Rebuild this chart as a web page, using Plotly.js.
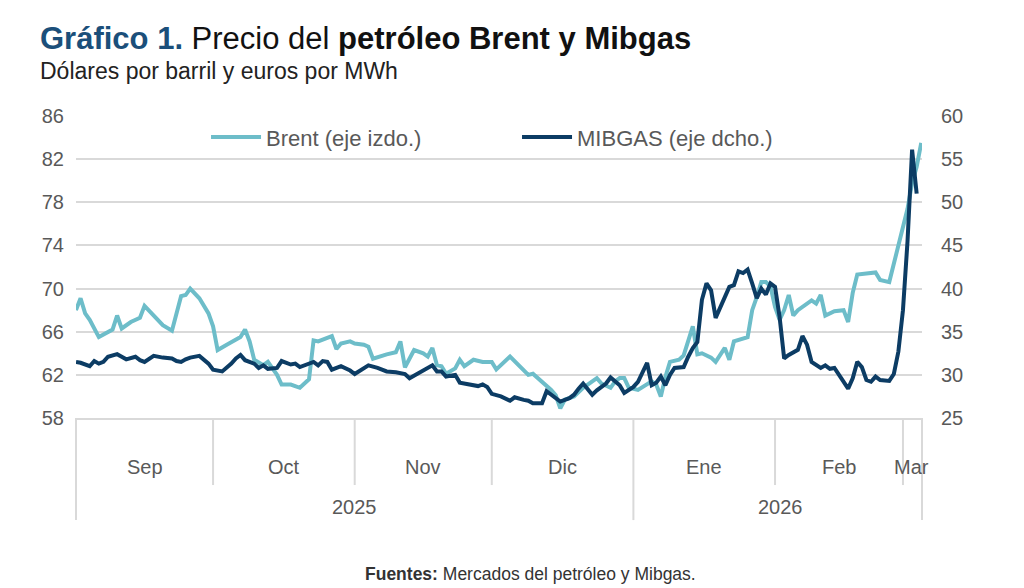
<!DOCTYPE html>
<html>
<head>
<meta charset="utf-8">
<script src="https://cdn.plot.ly/plotly-3.0.1.min.js"></script>
<style>html,body{margin:0;padding:0;background:#fff}#chart{width:1024px;height:588px}</style>
</head>
<body>
<div id="chart"></div>
<script>
const brentDates = ["2025-09-01","2025-09-02","2025-09-03","2025-09-04","2025-09-06","2025-09-07","2025-09-09","2025-09-10","2025-09-11","2025-09-13","2025-09-15","2025-09-16","2025-09-18","2025-09-20","2025-09-22","2025-09-24","2025-09-25","2025-09-26","2025-09-28","2025-09-30",
"2025-10-01","2025-10-02","2025-10-04","2025-10-06","2025-10-07","2025-10-08","2025-10-09","2025-10-10","2025-10-12","2025-10-13","2025-10-15","2025-10-16","2025-10-18","2025-10-20","2025-10-22","2025-10-23","2025-10-24","2025-10-27","2025-10-28","2025-10-29","2025-10-31",
"2025-11-01","2025-11-03","2025-11-04","2025-11-05","2025-11-08","2025-11-10","2025-11-11","2025-11-12","2025-11-14","2025-11-16","2025-11-17","2025-11-18","2025-11-19","2025-11-20","2025-11-21","2025-11-23","2025-11-24","2025-11-25","2025-11-27","2025-11-29",
"2025-12-01","2025-12-02","2025-12-05","2025-12-07","2025-12-09","2025-12-10","2025-12-12","2025-12-13","2025-12-14","2025-12-15","2025-12-16","2025-12-17","2025-12-19","2025-12-21","2025-12-23","2025-12-24","2025-12-25","2025-12-27","2025-12-28","2025-12-29","2025-12-30","2025-12-31",
"2026-01-02","2026-01-03","2026-01-05","2026-01-06","2026-01-07","2026-01-08","2026-01-09","2026-01-11","2026-01-12","2026-01-14","2026-01-15","2026-01-16","2026-01-18","2026-01-19","2026-01-21","2026-01-22","2026-01-23","2026-01-26","2026-01-27","2026-01-28","2026-01-29","2026-01-30","2026-01-31",
"2026-02-01","2026-02-02","2026-02-03","2026-02-04","2026-02-05","2026-02-06","2026-02-09","2026-02-10","2026-02-11","2026-02-12","2026-02-14","2026-02-16","2026-02-17","2026-02-18","2026-02-19","2026-02-23","2026-02-24","2026-02-26",
"2026-03-02","2026-03-03","2026-03-04","2026-03-05"];
const brentValues = [68.0,69.1,67.7,67.1,65.5,65.7,66.2,67.5,66.3,66.9,67.3,68.4,67.5,66.6,66.1,69.3,69.4,70.0,69.1,67.7,
66.5,64.3,64.8,65.2,65.5,66.2,65.1,63.4,62.9,63.2,62.0,61.1,61.1,60.8,61.6,65.2,65.1,65.6,64.4,64.9,65.1,
64.9,64.8,64.6,63.5,63.9,64.1,65.1,62.7,64.3,64.0,63.7,64.5,62.9,62.8,62.1,62.6,63.4,62.8,63.4,63.2,
63.2,62.5,63.7,62.9,62.0,62.1,61.4,61.0,60.6,60.1,58.9,59.7,60.0,60.8,61.4,61.7,61.2,60.8,61.4,61.7,61.7,60.8,
60.6,60.9,61.4,61.1,60.0,61.8,63.2,63.4,63.8,66.5,63.9,64.0,63.6,63.2,64.5,63.4,65.1,65.5,68.0,69.2,70.6,70.6,70.2,
68.3,67.1,68.0,69.4,67.5,68.0,68.9,68.6,69.4,67.5,67.9,68.0,66.9,69.6,71.3,71.5,70.8,70.6,
77.4,79.8,81.3,83.5];

const gasDates = ["2025-09-01","2025-09-02","2025-09-04","2025-09-05","2025-09-06","2025-09-07","2025-09-08","2025-09-10","2025-09-11","2025-09-12","2025-09-14","2025-09-15","2025-09-16","2025-09-18","2025-09-20","2025-09-22","2025-09-23","2025-09-24","2025-09-25","2025-09-26","2025-09-28","2025-09-30",
"2025-10-01","2025-10-03","2025-10-05","2025-10-06","2025-10-07","2025-10-08","2025-10-10","2025-10-11","2025-10-12","2025-10-13","2025-10-15","2025-10-16","2025-10-18","2025-10-19","2025-10-20","2025-10-21","2025-10-23","2025-10-24","2025-10-25","2025-10-26","2025-10-27","2025-10-29","2025-10-31",
"2025-11-01","2025-11-03","2025-11-04","2025-11-06","2025-11-08","2025-11-10","2025-11-12","2025-11-13","2025-11-15","2025-11-16","2025-11-17","2025-11-18","2025-11-19","2025-11-20","2025-11-21","2025-11-23","2025-11-24","2025-11-26","2025-11-28","2025-11-29","2025-11-30",
"2025-12-01","2025-12-03","2025-12-05","2025-12-06","2025-12-08","2025-12-09","2025-12-10","2025-12-12","2025-12-13","2025-12-16","2025-12-18","2025-12-19","2025-12-20","2025-12-21","2025-12-23","2025-12-24","2025-12-26","2025-12-27","2025-12-29","2025-12-30",
"2026-01-01","2026-01-02","2026-01-04","2026-01-05","2026-01-06","2026-01-07","2026-01-08","2026-01-09","2026-01-10","2026-01-12","2026-01-13","2026-01-14","2026-01-15","2026-01-16","2026-01-17","2026-01-18","2026-01-19","2026-01-20","2026-01-21","2026-01-22","2026-01-23","2026-01-24","2026-01-25","2026-01-26","2026-01-27","2026-01-28","2026-01-29","2026-01-30","2026-01-31",
"2026-02-01","2026-02-02","2026-02-03","2026-02-04","2026-02-06","2026-02-07","2026-02-08","2026-02-09","2026-02-11","2026-02-12","2026-02-13","2026-02-14","2026-02-16","2026-02-17","2026-02-18","2026-02-19","2026-02-20","2026-02-21","2026-02-22","2026-02-23","2026-02-24","2026-02-26","2026-02-27","2026-02-28",
"2026-03-01","2026-03-02","2026-03-03","2026-03-04"];
const gasValues = [31.5,31.4,31.0,31.6,31.3,31.5,32.1,32.4,32.1,31.8,32.1,31.7,31.5,32.2,32.0,31.9,31.6,31.5,31.8,32.0,32.2,31.3,
30.6,30.4,31.3,31.9,32.3,31.7,31.3,30.8,31.1,30.7,30.8,31.6,31.2,31.3,30.9,31.1,31.5,31.1,31.6,31.5,30.6,31.0,30.5,
30.1,30.8,31.1,30.8,30.4,30.3,30.1,29.6,30.2,30.5,30.8,31.1,30.4,30.4,29.8,30.0,29.1,28.9,28.7,28.9,28.6,
27.8,27.5,27.0,27.4,27.1,27.0,26.7,26.7,28.1,26.9,27.3,27.7,28.4,29.0,27.7,28.2,29.0,29.7,28.8,27.9,
28.6,29.2,31.4,28.8,29.1,29.8,28.8,30.0,30.8,30.9,32.1,33.1,33.8,38.7,40.6,39.8,36.6,37.9,39.1,40.2,40.4,42.0,41.8,42.2,40.6,38.9,40.0,39.3,40.6,
40.2,36.7,31.9,32.3,32.9,34.5,33.5,31.5,30.8,31.1,30.7,30.8,29.2,28.4,29.6,31.5,30.9,29.4,29.2,29.8,29.4,29.3,30.1,32.7,
37.5,45.5,56.1,51.0];

const monthStarts = ["2025-10-01","2025-11-01","2025-12-01","2026-02-01","2026-03-01"];
const yearStarts = ["2026-01-01"];
const monthLabels = ["Sep","Oct","Nov","Dic","Ene","Feb","Mar"];
const monthMids = ["2025-09-16","2025-10-16 12:00","2025-11-16","2025-12-16 12:00","2026-01-16 12:00","2026-02-15","2026-03-02 20:00"];
const yearLabels = ["2025","2026"];
const yearMids = ["2025-11-01","2026-02-02 06:00"];

const leftTicks = [58,62,66,70,74,78,82,86];
const rightTicks = [25,30,35,40,45,50,55,60];

const GRID = "#d9d9d9", TXT = "#595959";
const FONT = "Liberation Sans, Arial, sans-serif";

const traces = [
  {x: brentDates, y: brentValues, type: "scatter", mode: "lines", name: "Brent (eje izdo.)",
   line: {color: "#6dbdc9", width: 4}, yaxis: "y"},
  {x: gasDates, y: gasValues, type: "scatter", mode: "lines", name: "MIBGAS (eje dcho.)",
   line: {color: "#0c3c64", width: 4}, yaxis: "y2"}
];

const shapes = [];
monthStarts.forEach(d => shapes.push({type:"line", xref:"x", yref:"paper", x0:d, x1:d, y0:0, y1:-0.222, line:{color:GRID, width:2}}));
yearStarts.forEach(d => shapes.push({type:"line", xref:"x", yref:"paper", x0:d, x1:d, y0:0, y1:-0.338, line:{color:GRID, width:2}}));
[0,1].forEach(p => shapes.push({type:"line", xref:"x domain", yref:"paper", x0:p, x1:p, y0:0, y1:-0.338, line:{color:GRID, width:2}}));

const annotations = [];
monthLabels.forEach((m,i) => annotations.push({xref:"x", yref:"paper", x:monthMids[i], y:-0.162, text:m, showarrow:false, yanchor:"middle", font:{family:FONT, size:20, color:TXT}}));
yearLabels.forEach((m,i) => annotations.push({xref:"x", yref:"paper", x:yearMids[i], y:-0.295, text:m, showarrow:false, yanchor:"middle", font:{family:FONT, size:20, color:TXT}}));
annotations.push({xref:"paper", yref:"paper", x:-0.045, y:1.322, xanchor:"left", yanchor:"top", showarrow:false,
  text:'<b><span style="color:#1b4f7a">Gráfico 1.</span></b> Precio del <b>petróleo Brent y Mibgas</b>',
  font:{family:FONT, size:31, color:"#111"}});
annotations.push({xref:"paper", yref:"paper", x:-0.045, y:1.2, xanchor:"left", yanchor:"top", showarrow:false,
  text:'Dólares por barril y euros por MWh', font:{family:FONT, size:23, color:"#222"}});
annotations.push({xref:"paper", yref:"paper", x:0.537, y:-0.478, xanchor:"center", yanchor:"top", showarrow:false,
  text:'<b>Fuentes:</b> Mercados del petróleo y Mibgas.', font:{family:FONT, size:17.5, color:"#333"}});

const layout = {
  width: 1024, height: 588,
  margin: {l: 76, r: 102, t: 116, b: 170},
  paper_bgcolor: "#fff", plot_bgcolor: "#fff",
  showlegend: true,
  legend: {orientation: "h", x: 0.1537, xanchor: "left", y: 0.93, yanchor: "middle",
    font: {family: FONT, size: 22, color: TXT}, bgcolor: "rgba(0,0,0,0)", itemwidth: 50, entrywidth: 246},
  xaxis: {type: "date", range: ["2025-09-01", "2026-03-05 04:00"], showgrid: false, showticklabels: false,
    ticks: "", showline: true, linecolor: GRID, linewidth: 2, zeroline: false, fixedrange: true},
  yaxis: {range: [58, 86], tickvals: leftTicks, showgrid: true, gridcolor: GRID, gridwidth: 2,
    zeroline: false, ticks: "", ticklabelstandoff: 11, tickfont: {family: FONT, size: 20, color: TXT}},
  yaxis2: {range: [25, 60], tickvals: rightTicks, overlaying: "y", side: "right", showgrid: false,
    zeroline: false, ticks: "", ticklabelstandoff: 18, tickfont: {family: FONT, size: 20, color: TXT}},
  shapes: shapes,
  annotations: annotations
};

Plotly.newPlot("chart", traces, layout, {displayModeBar: false, staticPlot: true});
</script>
</body>
</html>
